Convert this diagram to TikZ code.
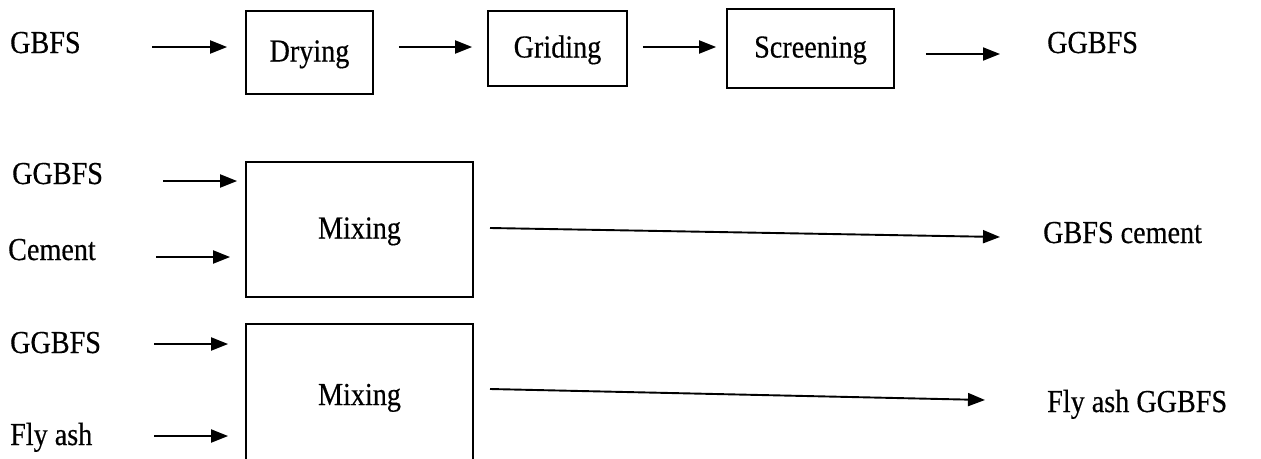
\documentclass[tikz,border=0pt]{standalone}
\usepackage{fontspec}
\setmainfont{Liberation Serif}[FakeStretch=0.88,FakeBold=0.4]
\usetikzlibrary{arrows.meta}
\begin{document}
\begin{tikzpicture}[x=1pt,y=-1pt,
  every node/.style={font=\fontsize{32}{38}\selectfont},
  stage/.style={draw, line width=1.8pt, inner sep=0pt, text height=22pt, text depth=4pt},
  lbl/.style={anchor=base west, inner sep=0pt},
  flow/.style={line width=1.9pt, -{Triangle[length=17pt,width=13pt]}}]
\useasboundingbox (0,0) rectangle (1261,458);
\clip (0,0) rectangle (1261,458);

% process stages
\node[stage, minimum width=127pt, minimum height=83pt] (dry)  at (309.5,52.5) {Drying};
\node[stage, minimum width=139pt, minimum height=75pt] (grid) at (557.5,48.5) {Griding};
\node[stage, minimum width=167pt, minimum height=79pt] (scr)  at (810.5,48.5) {Screening};
\node[stage, minimum width=227pt, minimum height=135pt] (mixa) at (359.5,229.5) {Mixing};
\node[stage, minimum width=227pt, minimum height=144pt] (mixb) at (359.5,396) {Mixing};

% materials
\node[lbl] (gbfs)  at (10,53)    {GBFS};
\node[lbl] (ggbfs) at (1047,53)  {GGBFS};
\node[lbl] (ina1)  at (12,184)   {GGBFS};
\node[lbl] (ina2)  at (8,260)    {Cement};
\node[lbl] (inb1)  at (10,353)   {GGBFS};
\node[lbl] (inb2)  at (10,445)   {Fly ash};
\node[lbl] (outa)  at (1043,243) {GBFS cement};
\node[lbl] (outb)  at (1047,412) {Fly ash GGBFS};

% arrow levels
\coordinate (r1) at (152,47);
\coordinate (r1b) at (900,54);
\coordinate (ya1) at (163,181);
\coordinate (ya2) at (156,257);
\coordinate (yb1) at (154,344);
\coordinate (yb2) at (154,436);
\coordinate (sa) at (490,228);
\coordinate (ea) at (1000,237);
\coordinate (sb) at (490,389);
\coordinate (eb) at (985,400);

% drying line
\draw[flow, shorten >=18pt] (r1) -- (dry.west |- r1);
\draw[flow, shorten <=25pt, shorten >=15pt] (dry.east |- r1) -- (grid.west |- r1);
\draw[flow, shorten <=15pt, shorten >=10pt] (grid.east |- r1) -- (scr.west |- r1);
\draw[flow, shorten <=31pt, shorten >=47pt] (scr.east |- r1b) -- (ggbfs.west |- r1b);

% cement blend
\draw[flow, shorten >=8pt]  (ya1) -- (mixa.west |- ya1);
\draw[flow, shorten >=15pt] (ya2) -- (mixa.west |- ya2);
\draw[flow] (sa) -- (ea);

% fly ash blend
\draw[flow, shorten >=17pt] (yb1) -- (mixb.west |- yb1);
\draw[flow, shorten >=17pt] (yb2) -- (mixb.west |- yb2);
\draw[flow] (sb) -- (eb);
\end{tikzpicture}
\end{document}
